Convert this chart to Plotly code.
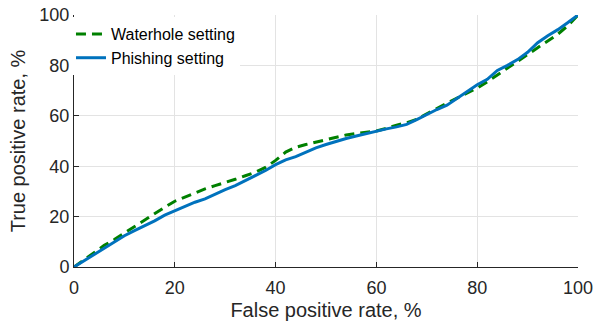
import plotly.graph_objects as go

fpr = [0, 2, 4, 6, 8, 10, 12, 14, 16, 18, 20, 22, 24, 26, 28, 30, 32, 34, 36, 38, 40,
       42, 44, 46, 48, 50, 52, 54, 56, 58, 60, 62, 64, 66, 68, 70, 72, 74, 76, 78, 80,
       82, 84, 86, 88, 90, 92, 94, 96, 98, 100]

tpr_waterhole = [0, 2.8, 5.8, 8.6, 10.9, 13.5, 16.2, 18.8, 21.2, 23.7, 26.1,
                 27.8, 29.4, 31.0, 32.3, 33.4, 34.8, 36.2, 37.6, 39.5, 42.3,
                 45.6, 47.5, 48.6, 49.6, 50.5, 51.5, 52.4, 53.0, 53.4, 54.0,
                 55.0, 56.3, 57.2, 58.6, 60.8, 63.0, 65.0, 67.0, 69.0, 71.0,
                 73.5, 76.2, 78.8, 81.5, 84.0, 86.8, 89.5, 92.4, 95.8, 100]

tpr_phishing = [0, 2.5, 5.0, 7.6, 10.1, 12.4, 14.4, 16.3, 18.3, 20.6, 22.3,
                24.0, 25.7, 27.0, 29.0, 30.7, 32.3, 34.2, 36.2, 38.3, 40.6,
                42.5, 43.8, 45.6, 47.3, 48.6, 49.9, 51.0, 52.0, 53.0, 54.0,
                54.8, 55.6, 56.6, 58.5, 60.6, 62.5, 64.2, 67.0, 69.8, 72.3,
                74.5, 78.0, 80.0, 82.3, 85.2, 89.0, 91.8, 94.2, 97.0, 100]

tick_vals = [0, 20, 40, 60, 80, 100]

FONT = "Liberation Sans, Arial, Helvetica, sans-serif"

fig = go.Figure()
fig.add_trace(go.Scatter(x=fpr, y=tpr_waterhole, mode="lines", name="Waterhole setting",
                         line=dict(color="#008000", width=3, dash="10px,6px")))
fig.add_trace(go.Scatter(x=fpr, y=tpr_phishing, mode="lines", name="Phishing setting",
                         line=dict(color="#0072BD", width=3)))

axis_common = dict(
    range=[0, 100], tickvals=tick_vals, showgrid=True, gridcolor="#e3e3e3", gridwidth=1,
    zeroline=False, showline=True, linecolor="#262626", linewidth=1,
    ticks="inside", ticklen=5, tickcolor="#262626", automargin=False,
    tickfont=dict(family=FONT, size=18, color="#262626"),
)

fig.update_layout(
    width=602, height=322,
    margin=dict(l=74, r=24, t=15, b=55, autoexpand=False),
    paper_bgcolor="white", plot_bgcolor="white",
    font=dict(family=FONT, color="#262626"),
    xaxis=dict(**axis_common, ticklabelstandoff=4,
               title=dict(text="False positive rate, %",
                          font=dict(family=FONT, size=20, color="#262626"),
                          standoff=6)),
    yaxis=dict(**axis_common, title=dict(text="True positive rate, %",
                                         font=dict(family=FONT, size=20, color="#262626"),
                                         standoff=8)),
    legend=dict(x=-0.006, y=0.992, xanchor="left", yanchor="top",
                bgcolor="rgba(255,255,255,1)", borderwidth=0,
                font=dict(family=FONT, size=16, color="#000000"),
                tracegroupgap=0),
    showlegend=True,
)

fig.write_html("out.html")
